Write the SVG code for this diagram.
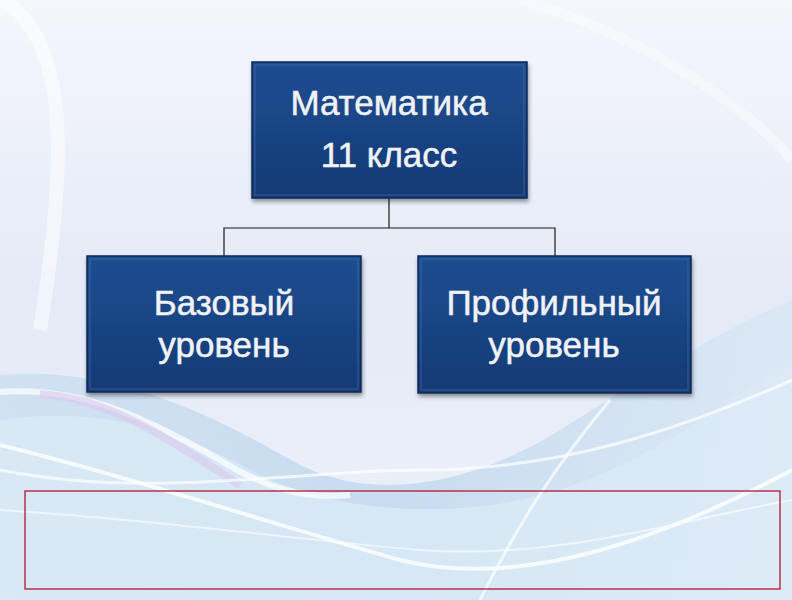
<svg xmlns="http://www.w3.org/2000/svg" width="792" height="600" viewBox="0 0 792 600">
<defs>
<linearGradient id="bg" x1="0" y1="0" x2="0" y2="1">
<stop offset="0" stop-color="#f4f6fc"/>
<stop offset="0.5" stop-color="#e4eaf6"/>
<stop offset="1" stop-color="#eef2fa"/>
</linearGradient>
<linearGradient id="wave1" x1="0" y1="0" x2="1" y2="0">
<stop offset="0" stop-color="#c4dbef"/>
<stop offset="0.5" stop-color="#b6d2eb"/>
<stop offset="1" stop-color="#d6e6f4"/>
</linearGradient>
<linearGradient id="box" x1="0" y1="0" x2="0" y2="1">
<stop offset="0" stop-color="#1e4d90"/>
<stop offset="0.5" stop-color="#194484"/>
<stop offset="1" stop-color="#143a74"/>
</linearGradient>
<filter id="sh" x="-10%" y="-10%" width="120%" height="130%">
<feGaussianBlur in="SourceAlpha" stdDeviation="2"/>
<feOffset dx="1" dy="3"/>
<feComponentTransfer><feFuncA type="linear" slope="0.4"/></feComponentTransfer>
<feMerge><feMergeNode/><feMergeNode in="SourceGraphic"/></feMerge>
</filter>
</defs>
<style>
.box{fill:url(#box);stroke:#0d2a58;stroke-width:1.5;filter:url(#sh)}
.hl{fill:none;stroke:#4f78b4;stroke-width:1.2;opacity:0.45}
.t{font-family:"Liberation Sans",Arial,sans-serif;font-size:35px;fill:#f0f2f6;stroke:#f0f2f6;stroke-width:0.5;text-anchor:middle}
.conn{fill:none;stroke:#1a1a1a;stroke-width:1.2}
</style>
<rect width="792" height="600" fill="url(#bg)"/>
<g id="background">
<path d="M0 375 C120 365 220 420 300 465 C380 505 480 480 560 430 C640 380 720 330 792 300 L792 600 L0 600 Z" fill="url(#wave1)" opacity="0.65"/>
<path d="M0 420 C100 405 180 430 260 475 C320 505 420 520 520 500 C620 480 700 420 792 360 L792 600 L0 600 Z" fill="#dcebf6" opacity="0.7"/>
<path d="M0 392 C80 385 150 420 220 460 C260 485 300 500 350 495" fill="none" stroke="#ffffff" stroke-width="6" opacity="0.7"/>
<path d="M40 394 C110 398 170 440 240 485" fill="none" stroke="#d8c8ec" stroke-width="8" opacity="0.6"/>
<path d="M0 445 C140 480 260 520 400 560 C520 590 660 540 792 470" fill="none" stroke="#ffffff" stroke-width="4" opacity="0.8"/>
<path d="M0 470 C150 500 300 470 420 470 C560 470 680 430 792 380" fill="none" stroke="#ffffff" stroke-width="3" opacity="0.7"/>
<path d="M0 510 C160 520 300 540 420 550 C560 560 680 520 792 500" fill="none" stroke="#ffffff" stroke-width="2" opacity="0.6"/>
<path d="M610 400 C560 460 520 520 480 600" fill="none" stroke="#ffffff" stroke-width="3" opacity="0.7"/>
<path d="M0 0 C80 40 60 200 40 330" fill="none" stroke="#ffffff" stroke-width="14" opacity="0.5"/>
<path d="M520 0 C660 40 760 120 792 160" fill="none" stroke="#ffffff" stroke-width="10" opacity="0.4"/>
</g>
<g id="connectors">
<path class="conn" d="M389 198 V228 M224 256 V228 H555 V256"/>
</g>
<g id="node-top">
<rect class="box" x="252" y="62" width="275" height="136"/>
<rect class="hl" x="255" y="65" width="269" height="130"/>
<text class="t" x="389" y="115">Математика</text>
<text class="t" x="389" y="167">11 класс</text>
</g>
<g id="node-left">
<rect class="box" x="87" y="256" width="274" height="136"/>
<rect class="hl" x="90" y="259" width="268" height="130"/>
<text class="t" x="224" y="315">Базовый</text>
<text class="t" x="224" y="357">уровень</text>
</g>
<g id="node-right">
<rect class="box" x="418" y="256" width="273" height="137"/>
<rect class="hl" x="421" y="259" width="267" height="131"/>
<text class="t" x="554" y="315">Профильный</text>
<text class="t" x="554" y="357">уровень</text>
</g>
<rect id="frame" x="25" y="491" width="755" height="98" fill="none" stroke="#b01830" stroke-width="1.3"/>
</svg>
